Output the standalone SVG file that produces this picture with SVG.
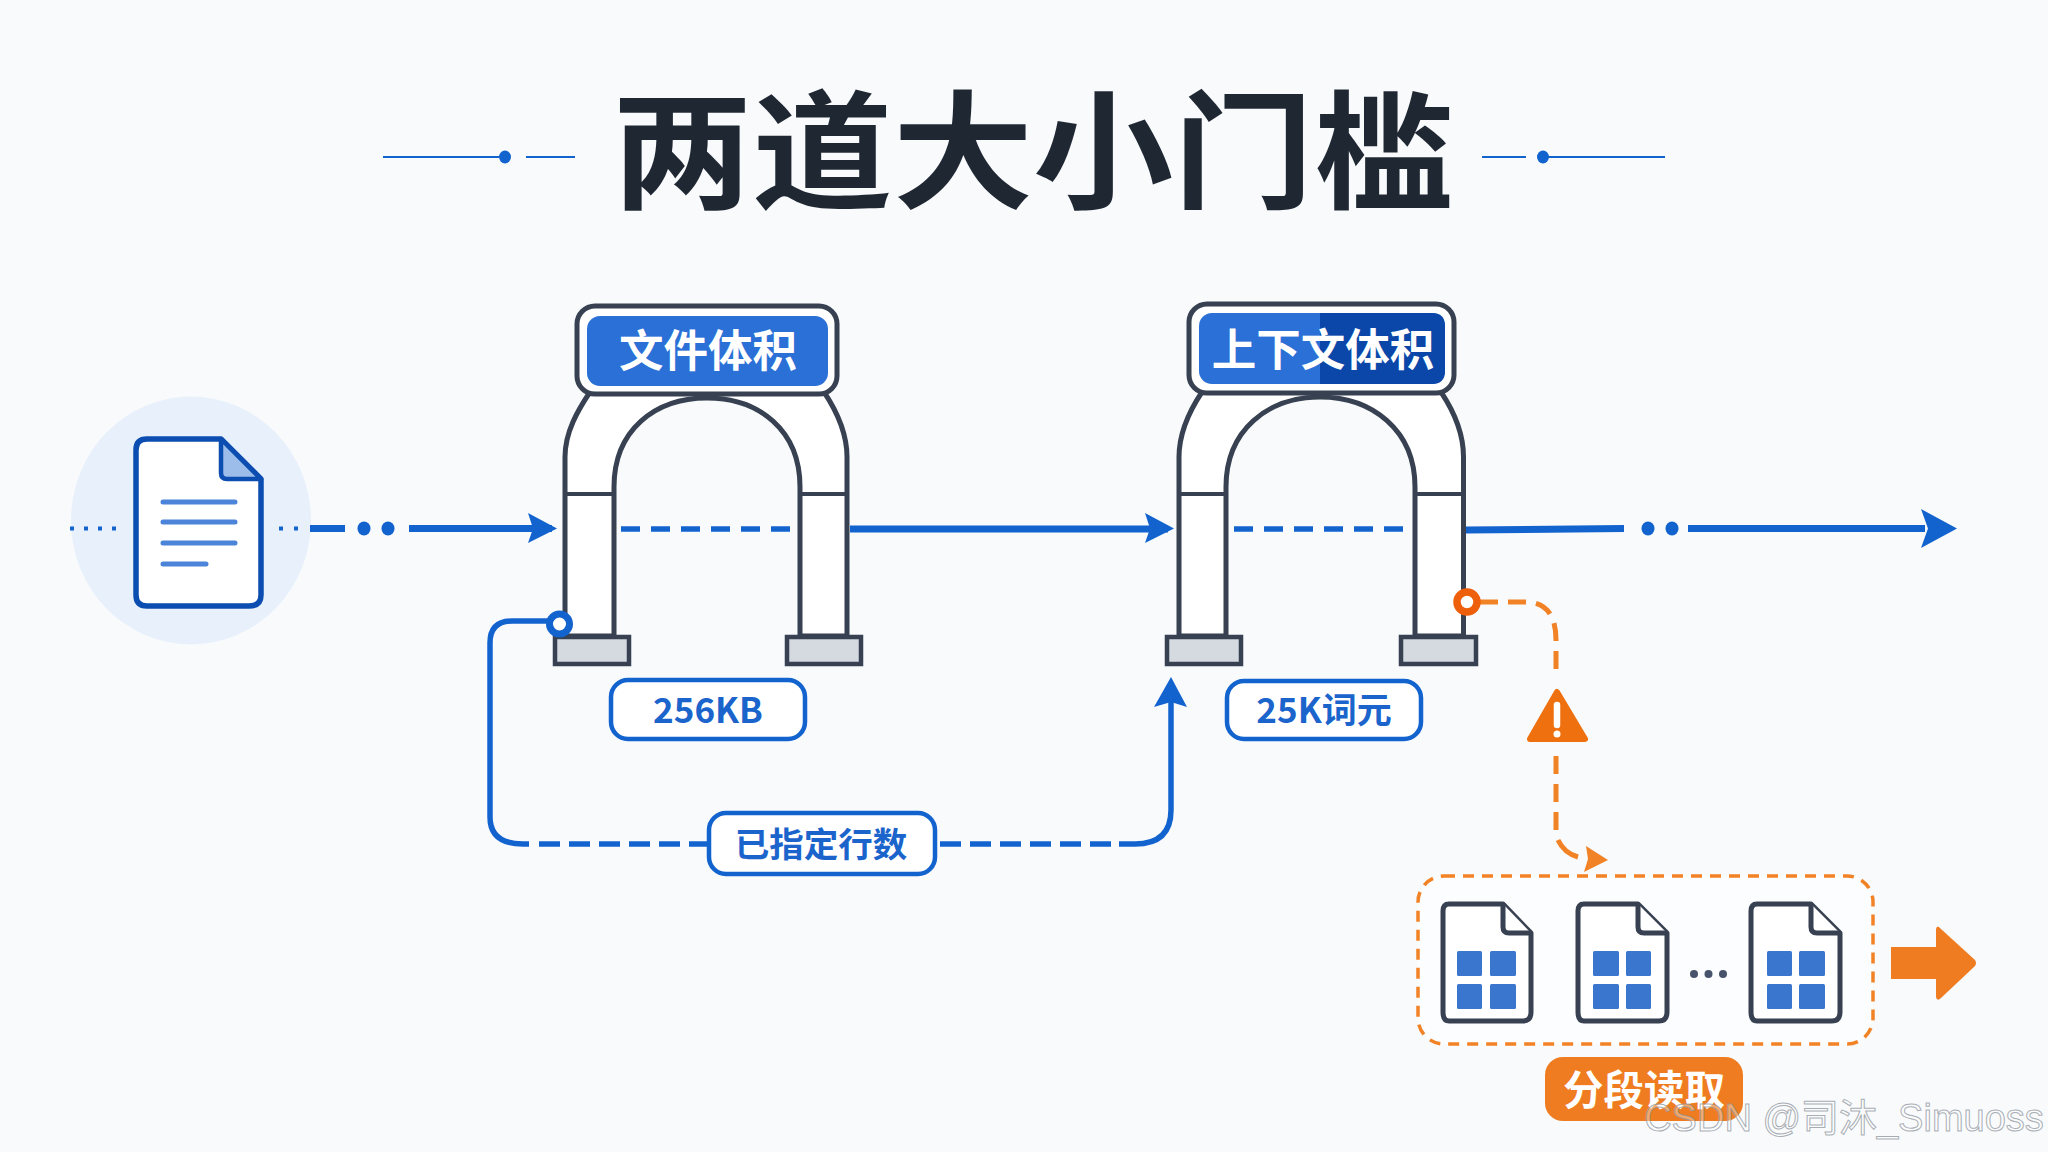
<svg xmlns="http://www.w3.org/2000/svg" width="2048" height="1152" viewBox="0 0 2048 1152">
<defs>
<style>
text{font-family:"Noto Sans CJK SC","Noto Sans",sans-serif;font-weight:700;text-anchor:middle}
.arch{fill:#fff;stroke:#374151;stroke-width:5;stroke-linejoin:round}
.seam{stroke:#374151;stroke-width:4;fill:none}
.foot{fill:#D5D9E0;stroke:#374151;stroke-width:4.5}
.plate{fill:#fff;stroke:#374151;stroke-width:5}
.pill{fill:#fff;stroke:#1363CF;stroke-width:4.5}
.blue{stroke:#1363CF;stroke-width:7;fill:none}
.loop{stroke:#1363CF;stroke-width:5.5;fill:none}
.thin{stroke:#1363CF;stroke-width:2;fill:none}
.orange{stroke:#F28226;stroke-width:5;fill:none;stroke-dasharray:18 10}
.sheet{fill:#fff;stroke:#374151;stroke-width:5;stroke-linejoin:round}
.tile{fill:#3B76CE}
.lbl{fill:#1A64CC;font-size:35px}
.hdr{fill:#fff;font-size:44.500px}
</style>
</defs>
<rect width="2048" height="1152" fill="#F8FAFC"/>

<g id="title">
<text x="1033" y="199" font-size="128" textLength="842" lengthAdjust="spacingAndGlyphs" fill="#1F2733" style="font-weight:700">两道大小门槛</text>
<path class="thin" d="M383 157H499M526 157H575M1482 157H1526M1543 157H1665"/>
<ellipse cx="505" cy="157" rx="6" ry="6.500" fill="#1363CF"/><ellipse cx="1543" cy="157" rx="6" ry="6.500" fill="#1363CF"/>
</g>

<g id="source-file">
<ellipse cx="191" cy="520.500" rx="120" ry="124" fill="#E8F1FB"/>
<path d="M147 439H221L261 479V595Q261 606 249 606H147Q136 606 136 595V450Q136 439 147 439Z" fill="#fff" stroke="#0B4DB0" stroke-width="5.500" stroke-linejoin="round"/>
<path d="M221 439L261 479H227Q221 479 221 473Z" fill="#9CBDE9" stroke="#0B4DB0" stroke-width="4.500" stroke-linejoin="round"/>
<path d="M163 502H235M163 522H235M163 543H235M163 564H206" stroke="#4B84D8" stroke-width="5" stroke-linecap="round" fill="none"/>
</g>

<g id="connectors">
<path d="M70 528.500H118" stroke="#1363CF" stroke-width="4" stroke-dasharray="4 10" fill="none"/>
<path d="M279 528.500H300" stroke="#1363CF" stroke-width="4" stroke-dasharray="4 11" fill="none"/>
<path class="blue" d="M310 528.500H345"/>
<ellipse cx="364" cy="528.500" rx="6.500" ry="7" fill="#1363CF"/><ellipse cx="388" cy="528.500" rx="6.500" ry="7" fill="#1363CF"/>
<path class="blue" d="M409 528.500H552"/>
<path d="M528 513L557 528.500L528 543L533 528.500Z" fill="#1363CF"/>
<path class="blue" d="M621 529H790" stroke-dasharray="19 11" style="stroke-width:5.500"/>
<path class="blue" d="M850 529H1168"/>
<path d="M1145 513L1174 528.500L1145 543L1150 528.500Z" fill="#1363CF"/>
<path class="blue" d="M1234 529H1403" stroke-dasharray="19 11" style="stroke-width:5.500"/>
<path class="blue" d="M1466 530L1624 528.500"/>
<ellipse cx="1648" cy="528.500" rx="6.500" ry="7" fill="#1363CF"/><ellipse cx="1672" cy="528.500" rx="6.500" ry="7" fill="#1363CF"/>
<path class="blue" d="M1688 528.500H1925"/>
<path d="M1921 509L1957 528.500L1921 548L1928 528.500Z" fill="#1363CF"/>
<path class="loop" d="M552 621H512Q490 621 490 643V817Q490 844 523 844H529"/>
<path class="loop" d="M539 844H707" stroke-dasharray="21 9"/>
<path class="loop" d="M940 844H1111" stroke-dasharray="21 9"/>
<path class="loop" d="M1119 844H1135Q1171 844 1171 810V700"/>
<path d="M1171 677L1187 707L1171 702L1154 707Z" fill="#1363CF"/>
<path class="orange" d="M1480 602H1525Q1556 602 1556 640V677"/>
<path class="orange" d="M1556 756V832"/>
<path d="M1558 840Q1564 853 1578 857" stroke="#F28226" stroke-width="5" fill="none"/>
<path d="M1586 846L1608 860L1584 872L1588 859Z" fill="#F28226"/>
</g>

<g id="gate-file-size">
<path class="arch" d="M565 636V457C565 432 578 410 590 392H824C836 410 847 432 847 457V636H800V487C800 430 759 398 707 398C655 398 614 430 614 487V636Z"/>
<path class="seam" d="M565 494H614M800 494H847"/>
<rect class="foot" x="555" y="637" width="74" height="27"/>
<rect class="foot" x="787" y="637" width="74" height="27"/>
<rect class="plate" x="577" y="306" width="260" height="88" rx="18"/>
<rect x="587" y="316" width="241" height="70" rx="13" fill="#2B70D6"/>
<text class="hdr" x="708" y="367">文件体积</text>
<rect class="pill" x="611" y="680" width="194" height="59" rx="17"/>
<text class="lbl" x="708" y="723">256KB</text>
</g>

<g id="gate-context-size">
<path class="arch" d="M1179 636V457C1179 432 1190 410 1202 392H1441C1453 410 1463.500 432 1463.500 457V636H1415V487C1415 430 1372 397 1320 397C1268 397 1226 430 1226 487V636Z"/>
<path class="seam" d="M1179 494H1226M1415 494H1463"/>
<rect class="foot" x="1167" y="637" width="74" height="27"/>
<rect class="foot" x="1401" y="637" width="75" height="27"/>
<rect class="plate" x="1189" y="304" width="265" height="89" rx="18"/>
<rect x="1199" y="313" width="246" height="71" rx="13" fill="#2B70D6"/>
<path d="M1320 313H1432Q1445 313 1445 326V371Q1445 384 1432 384H1320Z" fill="#0A47A9"/>
<text class="hdr" x="1323" y="366">上下文体积</text>
<rect class="pill" x="1227" y="681" width="194" height="58" rx="17"/>
<text class="lbl" x="1324" y="723">25K词元</text>
</g>

<g id="ports">
<circle cx="559.500" cy="624" r="10" fill="#fff" stroke="#1363CF" stroke-width="7"/>
<circle cx="1467" cy="602" r="10" fill="#fff" stroke="#EE5F0B" stroke-width="7.500"/>
</g>

<g id="row-count-label">
<rect class="pill" x="709" y="813" width="226" height="61" rx="17"/>
<text class="lbl" x="821" y="857" style="font-size:34.500px">已指定行数</text>
</g>

<g id="warning">
<path d="M1557 692L1585 739H1530Z" fill="#EE700F" stroke="#EE700F" stroke-width="6" stroke-linejoin="round"/>
<path d="M1557 705V725" stroke="#fff" stroke-width="6.500" stroke-linecap="round"/>
<circle cx="1557" cy="734" r="3.500" fill="#fff"/>
</g>

<g id="chunks">
<rect x="1418" y="876" width="455" height="168" rx="26" fill="#FCFDFE" stroke="#F28226" stroke-width="3.500" stroke-dasharray="11 8"/>
<g id="chunk-1">
<path class="sheet" d="M1449 904H1503L1531 933V1012Q1531 1021 1523 1021H1449Q1443 1021 1443 1012V911Q1443 904 1449 904Z"/>
<path class="sheet" d="M1503 904V927Q1503 933 1509 933H1531"/>
<rect class="tile" x="1457" y="951" width="25" height="25" rx="1.500"/><rect class="tile" x="1490" y="951" width="26" height="25" rx="1.500"/>
<rect class="tile" x="1457" y="984" width="25" height="25" rx="1.500"/><rect class="tile" x="1490" y="984" width="26" height="25" rx="1.500"/>
</g>
<g id="chunk-2">
<path class="sheet" d="M1584 904H1638L1667 933V1012Q1667 1021 1659 1021H1584Q1578 1021 1578 1012V911Q1578 904 1584 904Z"/>
<path class="sheet" d="M1638 904V927Q1638 933 1644 933H1667"/>
<rect class="tile" x="1593" y="951" width="26" height="25" rx="1.500"/><rect class="tile" x="1626" y="951" width="25" height="25" rx="1.500"/>
<rect class="tile" x="1593" y="984" width="26" height="25" rx="1.500"/><rect class="tile" x="1626" y="984" width="25" height="25" rx="1.500"/>
</g>
<circle cx="1694" cy="974" r="4" fill="#46536A"/><circle cx="1708.500" cy="974" r="4" fill="#46536A"/><circle cx="1723" cy="974" r="4" fill="#46536A"/>
<g id="chunk-3">
<path class="sheet" d="M1757 904H1811L1840 933V1012Q1840 1021 1832 1021H1757Q1751 1021 1751 1012V911Q1751 904 1757 904Z"/>
<path class="sheet" d="M1811 904V927Q1811 933 1817 933H1840"/>
<rect class="tile" x="1767" y="951" width="25" height="25" rx="1.500"/><rect class="tile" x="1799" y="951" width="26" height="25" rx="1.500"/>
<rect class="tile" x="1767" y="984" width="25" height="25" rx="1.500"/><rect class="tile" x="1799" y="984" width="26" height="25" rx="1.500"/>
</g>
</g>

<g id="next-arrow">
<path d="M1891 947H1936V929Q1937 924 1941 929L1975 960Q1977 963 1975 966L1941 998Q1937 1002 1936 997V979H1891Z" fill="#EF7C20"/>
</g>

<g id="segment-read">
<rect x="1545" y="1057" width="198" height="64" rx="18" fill="#EF7C20"/>
<text x="1644" y="1105" font-size="40.500" fill="#fff">分段读取</text>
</g>

<g id="watermark">
<text x="1844" y="1131" font-size="38" fill="#fff" fill-opacity="0.35" stroke="#8D939B" stroke-opacity="0.75" stroke-width="1" style="font-weight:400;font-family:'Liberation Sans','Noto Sans CJK SC',sans-serif">CSDN @司沐_Simuoss</text>
</g>
</svg>
